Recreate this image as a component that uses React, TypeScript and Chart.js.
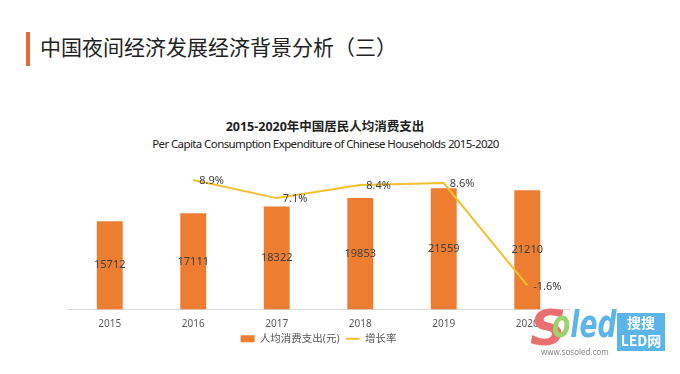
import React, { useEffect, useRef } from "react";
import { Chart, registerables } from "chart.js";

Chart.register(...registerables);

const categories = ["2015", "2016", "2017", "2018", "2019", "2020"];
const spending = [15712, 17111, 18322, 19853, 21559, 21210];
const growth = [null, 8.9, 7.1, 8.4, 8.6, -1.6];
const growthLabels = ["", "8.9%", "7.1%", "8.4%", "8.6%", "-1.6%"];
const seriesNames = ["人均消费支出(元)", "增长率"];

const FONT = "'Noto Sans', 'Noto Sans CJK SC', sans-serif";

const labelPlugin = {
  id: "valueLabels",
  afterDatasetsDraw(chart: any) {
    const ctx = chart.ctx;
    ctx.save();
    const barMeta = chart.getDatasetMeta(0);
    ctx.font = `11px ${FONT}`;
    ctx.fillStyle = "#404040";
    ctx.textAlign = "center";
    ctx.textBaseline = "middle";
    barMeta.data.forEach((el: any, i: number) => {
      const mid = (el.y + el.base) / 2;
      ctx.fillText(String(spending[i]), el.x, mid);
    });
    const lineMeta = chart.getDatasetMeta(1);
    ctx.textAlign = "left";
    lineMeta.data.forEach((el: any, i: number) => {
      if (growth[i] === null) return;
      ctx.fillText(growthLabels[i], el.x + 6, el.y + 1);
    });
    ctx.restore();
  },
};

function ChartView() {
  const ref = useRef<HTMLCanvasElement>(null);
  useEffect(() => {
    const chart = new Chart(ref.current!, {
      type: "bar",
      data: {
        labels: categories,
        datasets: [
          {
            type: "bar",
            label: seriesNames[0],
            data: spending,
            backgroundColor: "#ED7D31",
            borderWidth: 0,
            barPercentage: 0.62,
            categoryPercentage: 0.5,
            pointStyle: "rect",
            order: 2,
            yAxisID: "y",
          } as any,
          {
            type: "line",
            label: seriesNames[1],
            data: growth,
            borderColor: "#F2C12E",
            backgroundColor: "#F2C12E",
            borderWidth: 2,
            pointRadius: 0,
            pointStyle: "line",
            tension: 0,
            order: 1,
            yAxisID: "y1",
          } as any,
        ],
      },
      options: {
        animation: false,
        responsive: false,
        maintainAspectRatio: false,
        layout: { padding: { left: 68, right: 111, top: 7, bottom: 0 } },
        plugins: {
          legend: {
            position: "bottom",
            labels: {
              usePointStyle: true,
              pointStyleWidth: 14,
              boxWidth: 14,
              boxHeight: 7,
              color: "#595959",
              font: { size: 10.5, family: FONT },
              padding: 6,
              sort: (a: any, b: any) => a.datasetIndex - b.datasetIndex,
            },
          },
          tooltip: { enabled: false },
        },
        scales: {
          x: {
            grid: { display: false, drawTicks: false },
            border: { display: true, color: "#D9D9D9" },
            ticks: { color: "#595959", font: { size: 10, family: FONT }, padding: 9 },
            afterFit: (scale: any) => {
              scale.height -= 12;
            },
          },
          y: { display: false, min: 0, max: 25000 },
          y1: { display: false, min: -4, max: 10, position: "right" },
        },
      },
      plugins: [labelPlugin],
    });
    return () => chart.destroy();
  }, []);
  return <canvas ref={ref} width={680} height={192} style={{ position: "absolute", left: 0, top: 162, width: 680, height: 192 }} />;
}

export default function App() {
  return (
    <div style={{ position: "fixed", left: 0, top: 0, width: 680, height: 374, background: "#fff", overflow: "hidden", fontFamily: FONT }}>
      <div style={{ position: "absolute", left: 26, top: 32, width: 4, height: 34, background: "#E8673A" }} />
      <div style={{ position: "absolute", left: 40, top: 33, fontSize: 21, lineHeight: "26px", color: "#222", fontFamily: "'Noto Sans CJK SC', sans-serif", whiteSpace: "nowrap" }}>
        中国夜间经济发展经济背景分析（三）
      </div>
      <div style={{ position: "absolute", left: 0, width: 650, top: 118, textAlign: "center", fontSize: 12.5, fontWeight: 700, color: "#222", lineHeight: "18px", whiteSpace: "nowrap" }}>
        2015-2020年中国居民人均消费支出
      </div>
      <div style={{ position: "absolute", left: 0, width: 651, top: 136, textAlign: "center", fontSize: 11.5, letterSpacing: -0.6, color: "#222", lineHeight: "16px", whiteSpace: "nowrap" }}>
        Per Capita Consumption Expenditure of Chinese Households 2015-2020
      </div>
      <ChartView />
      <div style={{ position: "absolute", left: 530, top: 299, fontSize: 50, fontStyle: "italic", fontWeight: 700, color: "#E9706E", lineHeight: "58px", fontFamily: "'DejaVu Sans', sans-serif" }}>S</div>
      <div style={{ position: "absolute", left: 552, top: 302, fontSize: 38, fontStyle: "italic", fontWeight: 700, color: "#5CB5E8", lineHeight: "44px", fontFamily: "'DejaVu Sans', sans-serif", transform: "scaleX(0.7)", transformOrigin: "left top", whiteSpace: "nowrap" }}>
        <span style={{ color: "#9CD26B" }}>o</span>led
      </div>
      <div style={{ position: "absolute", left: 617, top: 313, width: 48, height: 38, background: "#5CB5E8", color: "#fff", fontSize: 14, lineHeight: "18px", textAlign: "center", fontWeight: 700, fontFamily: "'Noto Sans CJK SC', sans-serif" }}>
        搜搜<br />LED网
      </div>
      <div style={{ position: "absolute", left: 541, top: 347, fontSize: 8, color: "#888", lineHeight: "10px" }}>www.sosoled.com</div>
    </div>
  );
}
